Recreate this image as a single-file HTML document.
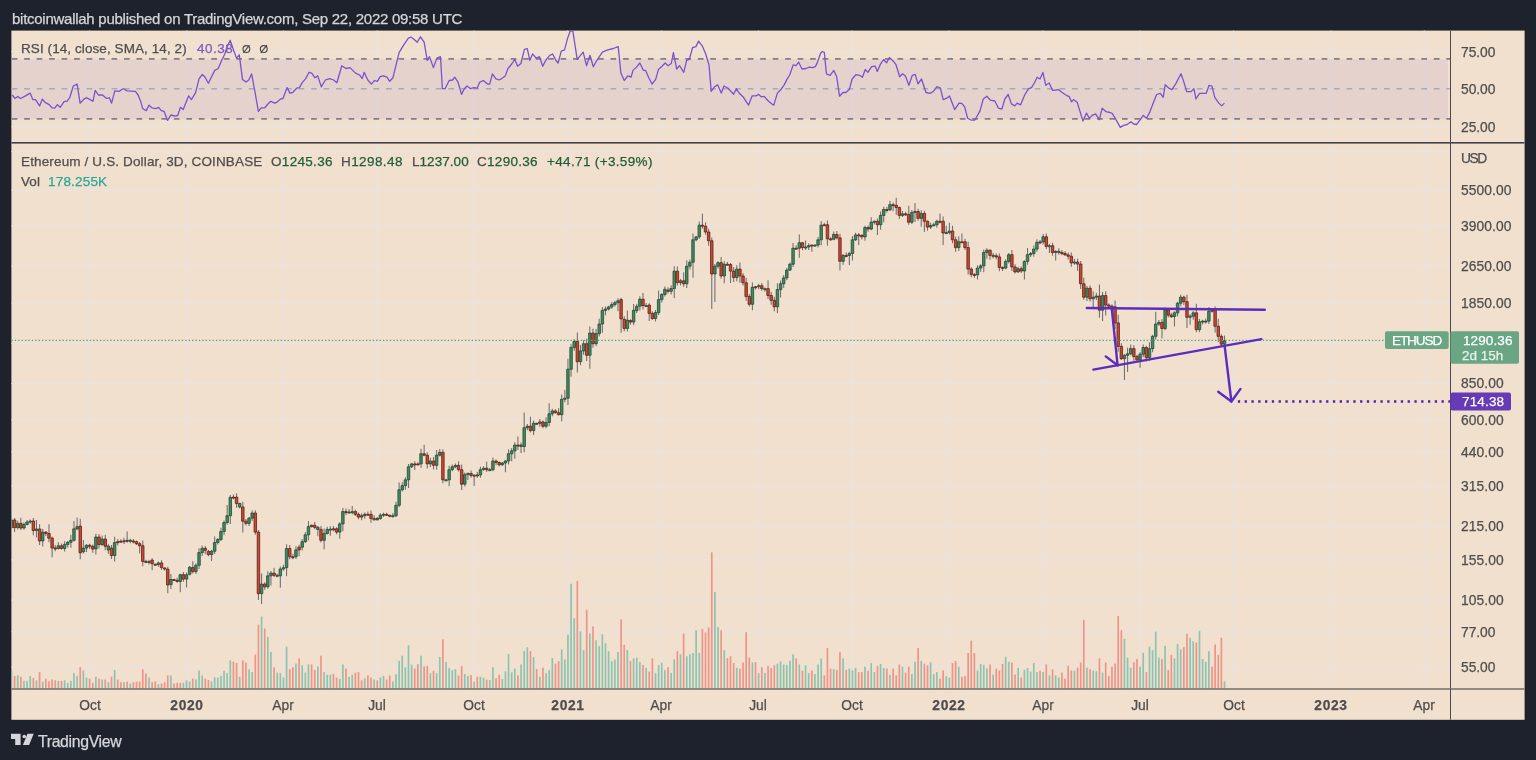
<!DOCTYPE html><html><head><meta charset="utf-8"><style>html,body{margin:0;padding:0;background:#1e222d;width:1536px;height:760px;overflow:hidden;font-family:"Liberation Sans",sans-serif;}.t{position:absolute;white-space:nowrap;line-height:1;will-change:transform;-webkit-text-stroke:0.25px currentColor;}</style></head><body><svg width="1536" height="760" viewBox="0 0 1536 760" style="position:absolute;left:0;top:0"><rect x="11.4" y="30.6" width="1513.2" height="689.2" fill="#f2e0cf"/><defs><clipPath id="cp"><rect x="11.4" y="30.6" width="1438.6" height="658.4"/></clipPath><clipPath id="cp2"><rect x="11.4" y="30.6" width="1513.2" height="689.2"/></clipPath></defs><g clip-path="url(#cp2)"><rect x="89.1" y="30" width="1" height="658" fill="#e8e3e5"/><rect x="186.3" y="30" width="1" height="658" fill="#e8e3e5"/><rect x="282.9" y="30" width="1" height="658" fill="#e8e3e5"/><rect x="376.7" y="30" width="1" height="658" fill="#e8e3e5"/><rect x="473.4" y="30" width="1" height="658" fill="#e8e3e5"/><rect x="567.1" y="30" width="1" height="658" fill="#e8e3e5"/><rect x="660.9" y="30" width="1" height="658" fill="#e8e3e5"/><rect x="757.9" y="30" width="1" height="658" fill="#e8e3e5"/><rect x="851.6" y="30" width="1" height="658" fill="#e8e3e5"/><rect x="948.6" y="30" width="1" height="658" fill="#e8e3e5"/><rect x="1042.3" y="30" width="1" height="658" fill="#e8e3e5"/><rect x="1139.7" y="30" width="1" height="658" fill="#e8e3e5"/><rect x="1233.1" y="30" width="1" height="658" fill="#e8e3e5"/><rect x="1330.5" y="30" width="1" height="658" fill="#e8e3e5"/><rect x="1423.8" y="30" width="1" height="658" fill="#e8e3e5"/><rect x="11" y="151.0" width="1439" height="1" fill="#e8e3e5"/><rect x="11" y="189.7" width="1439" height="1" fill="#e8e3e5"/><rect x="11" y="225.3" width="1439" height="1" fill="#e8e3e5"/><rect x="11" y="265.5" width="1439" height="1" fill="#e8e3e5"/><rect x="11" y="302.5" width="1439" height="1" fill="#e8e3e5"/><rect x="11" y="343.0" width="1439" height="1" fill="#e8e3e5"/><rect x="11" y="383.0" width="1439" height="1" fill="#e8e3e5"/><rect x="11" y="419.2" width="1439" height="1" fill="#e8e3e5"/><rect x="11" y="451.2" width="1439" height="1" fill="#e8e3e5"/><rect x="11" y="485.5" width="1439" height="1" fill="#e8e3e5"/><rect x="11" y="525.8" width="1439" height="1" fill="#e8e3e5"/><rect x="11" y="559.4" width="1439" height="1" fill="#e8e3e5"/><rect x="11" y="599.7" width="1439" height="1" fill="#e8e3e5"/><rect x="11" y="631.2" width="1439" height="1" fill="#e8e3e5"/><rect x="11" y="666.8" width="1439" height="1" fill="#e8e3e5"/><rect x="11" y="51.0" width="1439" height="1" fill="#e8e3e5"/><rect x="11" y="88.3" width="1439" height="1" fill="#e8e3e5"/><rect x="11" y="126.2" width="1439" height="1" fill="#e8e3e5"/><rect x="11" y="59.3" width="1437" height="59.8" fill="#7e57c2" fill-opacity="0.1"/><line x1="11" y1="58.9" x2="1450" y2="58.9" stroke="#7d7f8a" stroke-width="1.6" stroke-dasharray="5.7 6.775" stroke-dashoffset="-0.7"/><line x1="11" y1="88.8" x2="1450" y2="88.8" stroke="rgba(120,123,134,0.5)" stroke-width="1.6" stroke-dasharray="5.7 6.775" stroke-dashoffset="-0.7"/><line x1="11" y1="118.9" x2="1450" y2="118.9" stroke="#7d7f8a" stroke-width="1.6" stroke-dasharray="5.7 6.775" stroke-dashoffset="-0.7"/><polyline fill="none" stroke="#7b52cc" stroke-width="1.3" stroke-linejoin="round" points="12.3,95.0 15.0,98.5 17.8,96.4 20.5,98.5 24.6,96.4 30.1,93.1 32.8,99.6 35.5,99.6 39.6,105.9 42.4,99.1 45.1,102.4 49.2,104.6 52.0,107.8 54.7,108.1 57.4,104.6 60.2,107.3 64.3,101.3 67.0,101.3 69.7,97.7 73.3,86.0 77.1,84.1 80.1,103.2 83.4,99.6 86.1,97.7 90.2,99.6 93.0,101.3 95.2,90.3 98.4,95.0 102.5,95.0 106.6,98.5 109.4,97.7 111.6,103.2 114.8,90.9 118.9,91.4 123.1,88.7 127.2,90.9 135.4,91.4 138.1,95.0 140.8,101.8 142.7,108.7 146.3,110.6 149.0,105.1 151.8,107.8 155.9,108.7 158.6,107.3 161.3,110.6 164.1,111.4 167.6,120.4 170.9,115.0 175.0,116.1 177.7,115.5 180.5,107.3 183.2,109.5 188.7,95.8 191.4,99.6 195.5,92.8 199.1,78.6 202.4,74.5 205.1,77.2 208.4,83.2 211.1,77.8 214.7,70.4 218.2,68.5 221.5,60.8 224.8,54.0 227.0,47.1 230.2,40.3 233.0,48.5 236.5,58.1 239.3,54.8 242.5,79.4 246.1,82.1 248.8,80.0 251.6,73.9 254.3,88.2 258.4,111.4 261.1,107.8 264.7,107.8 268.0,104.0 270.7,101.3 274.8,103.2 277.5,101.8 280.3,99.1 283.0,98.5 287.1,87.6 289.9,93.1 292.6,92.5 296.7,88.2 299.4,87.6 302.2,82.7 305.7,78.6 309.0,72.3 311.7,73.1 315.0,77.8 317.7,75.9 321.3,86.8 325.4,80.0 329.5,78.6 333.6,80.0 336.9,82.7 341.8,65.7 345.9,68.5 350.0,67.6 355.5,73.1 359.6,75.0 362.3,78.6 364.2,72.3 367.8,80.0 371.3,84.1 374.6,80.5 377.4,81.3 380.1,76.7 383.4,75.9 386.9,77.2 389.7,81.3 392.9,77.8 399.2,52.1 400.0,51.2 404.1,44.4 408.2,38.4 410.9,37.0 414.2,39.5 417.2,42.2 420.5,36.8 424.1,42.2 427.3,60.3 429.5,56.7 433.4,67.6 436.9,58.1 440.5,56.7 442.4,88.7 445.1,88.7 449.2,80.5 452.5,80.0 454.7,77.2 458.0,82.1 461.5,94.4 464.3,88.7 467.0,86.0 470.5,88.7 473.8,87.6 477.1,88.2 479.8,82.1 483.4,80.5 487.5,84.1 489.7,84.1 492.4,73.9 495.7,78.6 499.0,80.0 501.7,78.6 505.3,75.9 508.0,68.5 512.1,63.5 514.8,59.4 517.6,66.3 520.9,63.5 524.4,49.3 527.2,48.5 529.9,60.3 532.6,54.0 536.2,58.1 539.5,56.7 542.7,66.3 546.3,59.4 549.8,55.3 552.6,54.0 555.9,60.3 558.1,63.0 561.3,51.2 564.6,49.9 567.4,38.9 570.1,31.3 572.8,30.7 577.2,59.4 583.2,52.1 586.5,65.7 590.0,55.3 593.3,66.8 596.9,60.3 602.4,52.1 607.8,49.9 613.3,48.5 618.2,46.6 620.9,73.1 624.2,80.5 627.8,75.9 631.1,77.2 633.0,70.4 636.5,67.1 639.8,63.0 643.4,70.4 645.6,70.4 648.8,77.8 652.1,84.1 655.7,79.4 658.4,69.6 662.0,66.3 665.2,63.0 668.0,65.7 671.3,63.5 673.4,52.6 676.7,69.0 679.5,65.7 683.8,72.3 686.6,60.3 689.3,59.4 692.6,47.7 695.9,46.6 698.6,41.1 702.2,45.8 705.7,54.0 709.0,64.9 711.2,91.4 714.5,86.8 717.7,84.9 721.3,93.1 724.0,86.0 728.1,88.2 733.6,94.2 736.3,88.7 739.1,93.1 743.2,96.9 746.7,102.4 748.6,105.1 752.2,95.8 756.0,95.8 758.8,94.4 761.5,96.9 764.2,96.4 767.8,100.5 771.9,104.0 773.8,105.1 777.4,93.1 780.9,89.5 784.2,84.9 786.9,79.4 789.7,75.0 793.2,64.9 796.0,65.7 798.7,62.2 802.0,69.0 806.1,68.5 809.4,67.1 812.9,67.6 815.6,66.3 817.2,62.9 820.6,53.2 822.3,51.5 824.3,52.3 826.4,73.8 830.1,75.3 833.8,70.4 836.7,76.7 839.5,96.2 843.0,92.5 845.8,92.5 849.3,89.6 852.1,79.0 855.9,74.7 859.6,75.3 862.4,77.3 865.3,69.5 867.9,72.4 871.6,66.7 875.1,66.1 877.3,71.5 880.2,64.7 883.6,59.5 886.5,62.9 889.4,57.5 893.1,60.9 896.0,64.7 899.7,76.7 902.5,73.8 905.4,76.1 908.9,85.3 912.3,75.3 915.2,74.4 918.0,83.9 921.5,79.0 926.0,92.5 930.3,93.3 933.2,91.6 936.9,86.7 940.4,88.2 943.2,99.6 946.7,98.2 949.5,95.9 954.7,109.6 959.0,103.1 961.8,103.3 964.7,106.8 967.6,118.2 971.3,120.2 974.7,120.2 979.9,111.1 983.3,99.0 986.8,96.2 990.5,100.2 994.8,101.0 998.5,108.2 1001.9,109.1 1004.8,99.0 1008.2,94.5 1011.4,103.9 1014.8,105.9 1017.1,103.1 1020.6,104.8 1024.9,94.5 1028.6,88.7 1031.5,87.6 1034.3,83.0 1037.2,77.3 1040.0,79.0 1042.9,72.4 1045.8,85.3 1049.2,83.0 1052.6,90.4 1058.4,89.6 1062.1,92.5 1066.4,95.3 1069.3,96.7 1071.6,101.9 1073.6,99.6 1077.3,102.5 1080.1,111.9 1083.0,121.1 1086.5,113.1 1089.3,118.2 1092.2,115.4 1095.6,113.9 1099.3,119.7 1102.2,108.2 1105.9,111.6 1109.9,112.5 1112.2,113.4 1115.7,119.1 1120.3,127.4 1123.7,125.4 1127.1,124.5 1130.9,121.7 1133.7,124.0 1136.6,124.5 1140.3,119.7 1143.2,115.4 1146.6,118.2 1150.0,111.6 1152.9,103.9 1156.6,94.5 1160.4,93.3 1163.2,97.3 1165.2,84.7 1168.9,88.2 1171.8,89.6 1175.3,84.7 1177.5,80.4 1181.0,73.8 1183.8,81.9 1186.7,91.6 1191.0,91.6 1193.9,88.7 1195.9,98.8 1199.6,93.3 1203.9,93.3 1206.2,93.3 1209.1,85.3 1211.9,86.1 1214.8,97.3 1218.8,103.1 1221.7,105.9 1224.5,103.1"/><g clip-path="url(#cp)"><rect x="10.61" y="671.27" width="1.7" height="17.23" fill="#8cc4b0"/><rect x="13.73" y="675.92" width="1.7" height="12.58" fill="#ee9488"/><rect x="16.86" y="675.37" width="1.7" height="13.13" fill="#8cc4b0"/><rect x="19.99" y="676.74" width="1.7" height="11.76" fill="#ee9488"/><rect x="23.11" y="680.84" width="1.7" height="7.66" fill="#8cc4b0"/><rect x="26.24" y="680.84" width="1.7" height="7.66" fill="#8cc4b0"/><rect x="29.37" y="675.92" width="1.7" height="12.58" fill="#8cc4b0"/><rect x="32.49" y="678.11" width="1.7" height="10.39" fill="#ee9488"/><rect x="35.62" y="680.30" width="1.7" height="8.20" fill="#8cc4b0"/><rect x="38.74" y="672.09" width="1.7" height="16.41" fill="#ee9488"/><rect x="41.87" y="681.66" width="1.7" height="6.84" fill="#8cc4b0"/><rect x="45.00" y="678.66" width="1.7" height="9.84" fill="#ee9488"/><rect x="48.12" y="681.39" width="1.7" height="7.11" fill="#ee9488"/><rect x="51.25" y="679.48" width="1.7" height="9.02" fill="#ee9488"/><rect x="54.38" y="680.30" width="1.7" height="8.20" fill="#ee9488"/><rect x="57.50" y="680.84" width="1.7" height="7.66" fill="#8cc4b0"/><rect x="60.63" y="680.84" width="1.7" height="7.66" fill="#ee9488"/><rect x="63.76" y="680.30" width="1.7" height="8.20" fill="#8cc4b0"/><rect x="66.88" y="683.03" width="1.7" height="5.47" fill="#8cc4b0"/><rect x="70.01" y="680.84" width="1.7" height="7.66" fill="#8cc4b0"/><rect x="73.13" y="673.19" width="1.7" height="15.31" fill="#8cc4b0"/><rect x="76.26" y="675.92" width="1.7" height="12.58" fill="#8cc4b0"/><rect x="79.39" y="667.17" width="1.7" height="21.33" fill="#ee9488"/><rect x="82.51" y="670.45" width="1.7" height="18.05" fill="#8cc4b0"/><rect x="85.64" y="677.56" width="1.7" height="10.94" fill="#8cc4b0"/><rect x="88.77" y="678.66" width="1.7" height="9.84" fill="#ee9488"/><rect x="91.89" y="682.76" width="1.7" height="5.74" fill="#ee9488"/><rect x="95.02" y="676.74" width="1.7" height="11.76" fill="#8cc4b0"/><rect x="98.15" y="678.66" width="1.7" height="9.84" fill="#ee9488"/><rect x="101.27" y="679.48" width="1.7" height="9.02" fill="#8cc4b0"/><rect x="104.40" y="679.48" width="1.7" height="9.02" fill="#ee9488"/><rect x="107.53" y="682.21" width="1.7" height="6.29" fill="#8cc4b0"/><rect x="110.65" y="676.74" width="1.7" height="11.76" fill="#ee9488"/><rect x="113.78" y="669.91" width="1.7" height="18.59" fill="#8cc4b0"/><rect x="116.90" y="679.48" width="1.7" height="9.02" fill="#ee9488"/><rect x="120.03" y="682.21" width="1.7" height="6.29" fill="#ee9488"/><rect x="123.16" y="682.21" width="1.7" height="6.29" fill="#8cc4b0"/><rect x="126.28" y="681.66" width="1.7" height="6.84" fill="#ee9488"/><rect x="129.41" y="683.58" width="1.7" height="4.92" fill="#8cc4b0"/><rect x="132.54" y="682.21" width="1.7" height="6.29" fill="#ee9488"/><rect x="135.66" y="681.66" width="1.7" height="6.84" fill="#ee9488"/><rect x="138.79" y="681.66" width="1.7" height="6.84" fill="#ee9488"/><rect x="141.92" y="669.36" width="1.7" height="19.14" fill="#ee9488"/><rect x="145.04" y="673.46" width="1.7" height="15.04" fill="#ee9488"/><rect x="148.17" y="677.56" width="1.7" height="10.94" fill="#8cc4b0"/><rect x="151.29" y="682.21" width="1.7" height="6.29" fill="#ee9488"/><rect x="154.42" y="681.39" width="1.7" height="7.11" fill="#ee9488"/><rect x="157.55" y="684.12" width="1.7" height="4.38" fill="#8cc4b0"/><rect x="160.67" y="683.58" width="1.7" height="4.92" fill="#ee9488"/><rect x="163.80" y="682.21" width="1.7" height="6.29" fill="#ee9488"/><rect x="166.93" y="675.37" width="1.7" height="13.13" fill="#ee9488"/><rect x="170.05" y="675.37" width="1.7" height="13.13" fill="#8cc4b0"/><rect x="173.18" y="683.58" width="1.7" height="4.92" fill="#ee9488"/><rect x="176.31" y="682.76" width="1.7" height="5.74" fill="#ee9488"/><rect x="179.43" y="682.76" width="1.7" height="5.74" fill="#ee9488"/><rect x="182.56" y="682.76" width="1.7" height="5.74" fill="#8cc4b0"/><rect x="185.69" y="680.30" width="1.7" height="8.20" fill="#8cc4b0"/><rect x="188.81" y="681.66" width="1.7" height="6.84" fill="#8cc4b0"/><rect x="191.94" y="678.66" width="1.7" height="9.84" fill="#ee9488"/><rect x="195.06" y="679.48" width="1.7" height="9.02" fill="#8cc4b0"/><rect x="198.19" y="670.45" width="1.7" height="18.05" fill="#8cc4b0"/><rect x="201.32" y="675.37" width="1.7" height="13.13" fill="#8cc4b0"/><rect x="204.44" y="678.66" width="1.7" height="9.84" fill="#ee9488"/><rect x="207.57" y="680.02" width="1.7" height="8.48" fill="#ee9488"/><rect x="210.70" y="681.39" width="1.7" height="7.11" fill="#8cc4b0"/><rect x="213.82" y="677.29" width="1.7" height="11.21" fill="#8cc4b0"/><rect x="216.95" y="677.56" width="1.7" height="10.94" fill="#8cc4b0"/><rect x="220.08" y="675.92" width="1.7" height="12.58" fill="#8cc4b0"/><rect x="223.20" y="670.73" width="1.7" height="17.77" fill="#8cc4b0"/><rect x="226.33" y="673.19" width="1.7" height="15.31" fill="#8cc4b0"/><rect x="229.45" y="660.33" width="1.7" height="28.17" fill="#8cc4b0"/><rect x="232.58" y="661.70" width="1.7" height="26.80" fill="#ee9488"/><rect x="235.71" y="663.07" width="1.7" height="25.43" fill="#ee9488"/><rect x="238.83" y="676.74" width="1.7" height="11.76" fill="#8cc4b0"/><rect x="241.96" y="660.33" width="1.7" height="28.17" fill="#ee9488"/><rect x="245.09" y="662.52" width="1.7" height="25.98" fill="#ee9488"/><rect x="248.21" y="669.36" width="1.7" height="19.14" fill="#8cc4b0"/><rect x="251.34" y="672.09" width="1.7" height="16.41" fill="#8cc4b0"/><rect x="254.47" y="654.59" width="1.7" height="33.91" fill="#ee9488"/><rect x="257.59" y="624.79" width="1.7" height="63.71" fill="#ee9488"/><rect x="260.72" y="616.58" width="1.7" height="71.92" fill="#8cc4b0"/><rect x="263.85" y="628.34" width="1.7" height="60.16" fill="#ee9488"/><rect x="266.97" y="637.09" width="1.7" height="51.41" fill="#8cc4b0"/><rect x="270.10" y="651.86" width="1.7" height="36.64" fill="#8cc4b0"/><rect x="273.22" y="667.17" width="1.7" height="21.33" fill="#ee9488"/><rect x="276.35" y="672.64" width="1.7" height="15.86" fill="#8cc4b0"/><rect x="279.48" y="673.19" width="1.7" height="15.31" fill="#8cc4b0"/><rect x="282.60" y="677.56" width="1.7" height="10.94" fill="#8cc4b0"/><rect x="285.73" y="646.66" width="1.7" height="41.84" fill="#8cc4b0"/><rect x="288.86" y="669.09" width="1.7" height="19.41" fill="#ee9488"/><rect x="291.98" y="667.17" width="1.7" height="21.33" fill="#ee9488"/><rect x="295.11" y="663.62" width="1.7" height="24.88" fill="#8cc4b0"/><rect x="298.24" y="658.42" width="1.7" height="30.08" fill="#ee9488"/><rect x="301.36" y="665.26" width="1.7" height="23.24" fill="#8cc4b0"/><rect x="304.49" y="672.64" width="1.7" height="15.86" fill="#8cc4b0"/><rect x="307.61" y="664.44" width="1.7" height="24.06" fill="#8cc4b0"/><rect x="310.74" y="664.44" width="1.7" height="24.06" fill="#ee9488"/><rect x="313.87" y="669.91" width="1.7" height="18.59" fill="#ee9488"/><rect x="316.99" y="666.35" width="1.7" height="22.15" fill="#8cc4b0"/><rect x="320.12" y="655.69" width="1.7" height="32.81" fill="#ee9488"/><rect x="323.25" y="672.09" width="1.7" height="16.41" fill="#8cc4b0"/><rect x="326.37" y="674.83" width="1.7" height="13.67" fill="#8cc4b0"/><rect x="329.50" y="674.55" width="1.7" height="13.95" fill="#8cc4b0"/><rect x="332.63" y="674.01" width="1.7" height="14.49" fill="#ee9488"/><rect x="335.75" y="677.56" width="1.7" height="10.94" fill="#ee9488"/><rect x="338.88" y="678.93" width="1.7" height="9.57" fill="#8cc4b0"/><rect x="342.01" y="664.44" width="1.7" height="24.06" fill="#8cc4b0"/><rect x="345.13" y="668.54" width="1.7" height="19.96" fill="#ee9488"/><rect x="348.26" y="676.74" width="1.7" height="11.76" fill="#8cc4b0"/><rect x="351.38" y="674.83" width="1.7" height="13.67" fill="#8cc4b0"/><rect x="354.51" y="672.64" width="1.7" height="15.86" fill="#ee9488"/><rect x="357.64" y="672.09" width="1.7" height="16.41" fill="#ee9488"/><rect x="360.76" y="680.30" width="1.7" height="8.20" fill="#ee9488"/><rect x="363.89" y="678.11" width="1.7" height="10.39" fill="#8cc4b0"/><rect x="367.02" y="675.37" width="1.7" height="13.13" fill="#ee9488"/><rect x="370.14" y="677.56" width="1.7" height="10.94" fill="#ee9488"/><rect x="373.27" y="679.48" width="1.7" height="9.02" fill="#8cc4b0"/><rect x="376.40" y="680.30" width="1.7" height="8.20" fill="#ee9488"/><rect x="379.52" y="677.56" width="1.7" height="10.94" fill="#8cc4b0"/><rect x="382.65" y="675.92" width="1.7" height="12.58" fill="#8cc4b0"/><rect x="385.77" y="679.48" width="1.7" height="9.02" fill="#ee9488"/><rect x="388.90" y="675.37" width="1.7" height="13.13" fill="#ee9488"/><rect x="392.03" y="681.39" width="1.7" height="7.11" fill="#8cc4b0"/><rect x="395.15" y="674.28" width="1.7" height="14.22" fill="#8cc4b0"/><rect x="398.28" y="660.88" width="1.7" height="27.62" fill="#8cc4b0"/><rect x="401.41" y="655.69" width="1.7" height="32.81" fill="#8cc4b0"/><rect x="404.53" y="667.44" width="1.7" height="21.06" fill="#8cc4b0"/><rect x="407.66" y="645.30" width="1.7" height="43.20" fill="#8cc4b0"/><rect x="410.79" y="664.71" width="1.7" height="23.79" fill="#8cc4b0"/><rect x="413.91" y="668.54" width="1.7" height="19.96" fill="#ee9488"/><rect x="417.04" y="664.16" width="1.7" height="24.34" fill="#ee9488"/><rect x="420.17" y="655.69" width="1.7" height="32.81" fill="#8cc4b0"/><rect x="423.29" y="666.35" width="1.7" height="22.15" fill="#ee9488"/><rect x="426.42" y="665.80" width="1.7" height="22.70" fill="#ee9488"/><rect x="429.54" y="673.19" width="1.7" height="15.31" fill="#8cc4b0"/><rect x="432.67" y="670.73" width="1.7" height="17.77" fill="#ee9488"/><rect x="435.80" y="673.19" width="1.7" height="15.31" fill="#8cc4b0"/><rect x="438.92" y="657.05" width="1.7" height="31.45" fill="#8cc4b0"/><rect x="442.05" y="639.28" width="1.7" height="49.22" fill="#ee9488"/><rect x="445.18" y="661.98" width="1.7" height="26.52" fill="#8cc4b0"/><rect x="448.30" y="667.99" width="1.7" height="20.51" fill="#8cc4b0"/><rect x="451.43" y="670.18" width="1.7" height="18.32" fill="#8cc4b0"/><rect x="454.56" y="669.09" width="1.7" height="19.41" fill="#8cc4b0"/><rect x="457.68" y="675.65" width="1.7" height="12.85" fill="#ee9488"/><rect x="460.81" y="666.08" width="1.7" height="22.42" fill="#ee9488"/><rect x="463.93" y="674.01" width="1.7" height="14.49" fill="#8cc4b0"/><rect x="467.06" y="675.92" width="1.7" height="12.58" fill="#8cc4b0"/><rect x="470.19" y="675.10" width="1.7" height="13.40" fill="#ee9488"/><rect x="473.31" y="681.66" width="1.7" height="6.84" fill="#8cc4b0"/><rect x="476.44" y="676.74" width="1.7" height="11.76" fill="#ee9488"/><rect x="479.57" y="676.74" width="1.7" height="11.76" fill="#8cc4b0"/><rect x="482.69" y="677.56" width="1.7" height="10.94" fill="#8cc4b0"/><rect x="485.82" y="679.48" width="1.7" height="9.02" fill="#ee9488"/><rect x="488.95" y="680.02" width="1.7" height="8.48" fill="#8cc4b0"/><rect x="492.07" y="667.17" width="1.7" height="21.33" fill="#8cc4b0"/><rect x="495.20" y="678.11" width="1.7" height="10.39" fill="#ee9488"/><rect x="498.33" y="674.83" width="1.7" height="13.67" fill="#ee9488"/><rect x="501.45" y="678.93" width="1.7" height="9.57" fill="#8cc4b0"/><rect x="504.58" y="671.27" width="1.7" height="17.23" fill="#8cc4b0"/><rect x="507.70" y="654.05" width="1.7" height="34.45" fill="#8cc4b0"/><rect x="510.83" y="672.37" width="1.7" height="16.13" fill="#8cc4b0"/><rect x="513.96" y="668.54" width="1.7" height="19.96" fill="#8cc4b0"/><rect x="517.08" y="675.37" width="1.7" height="13.13" fill="#ee9488"/><rect x="520.21" y="664.44" width="1.7" height="24.06" fill="#8cc4b0"/><rect x="523.34" y="651.04" width="1.7" height="37.46" fill="#8cc4b0"/><rect x="526.46" y="647.21" width="1.7" height="41.29" fill="#8cc4b0"/><rect x="529.59" y="651.04" width="1.7" height="37.46" fill="#ee9488"/><rect x="532.72" y="657.05" width="1.7" height="31.45" fill="#8cc4b0"/><rect x="535.84" y="669.09" width="1.7" height="19.41" fill="#ee9488"/><rect x="538.97" y="676.74" width="1.7" height="11.76" fill="#8cc4b0"/><rect x="542.09" y="667.72" width="1.7" height="20.78" fill="#ee9488"/><rect x="545.22" y="673.19" width="1.7" height="15.31" fill="#8cc4b0"/><rect x="548.35" y="670.18" width="1.7" height="18.32" fill="#8cc4b0"/><rect x="551.47" y="658.15" width="1.7" height="30.35" fill="#8cc4b0"/><rect x="554.60" y="663.62" width="1.7" height="24.88" fill="#ee9488"/><rect x="557.73" y="661.16" width="1.7" height="27.34" fill="#ee9488"/><rect x="560.85" y="649.40" width="1.7" height="39.10" fill="#8cc4b0"/><rect x="563.98" y="659.51" width="1.7" height="28.99" fill="#8cc4b0"/><rect x="567.11" y="634.63" width="1.7" height="53.87" fill="#8cc4b0"/><rect x="570.23" y="583.77" width="1.7" height="104.73" fill="#8cc4b0"/><rect x="573.36" y="618.22" width="1.7" height="70.28" fill="#8cc4b0"/><rect x="576.49" y="581.03" width="1.7" height="107.47" fill="#ee9488"/><rect x="579.61" y="631.35" width="1.7" height="57.15" fill="#8cc4b0"/><rect x="582.74" y="650.22" width="1.7" height="38.28" fill="#8cc4b0"/><rect x="585.86" y="609.75" width="1.7" height="78.75" fill="#ee9488"/><rect x="588.99" y="633.54" width="1.7" height="54.96" fill="#8cc4b0"/><rect x="592.12" y="626.43" width="1.7" height="62.07" fill="#ee9488"/><rect x="595.24" y="640.37" width="1.7" height="48.13" fill="#8cc4b0"/><rect x="598.37" y="646.12" width="1.7" height="42.38" fill="#8cc4b0"/><rect x="601.50" y="634.36" width="1.7" height="54.14" fill="#8cc4b0"/><rect x="604.62" y="643.11" width="1.7" height="45.39" fill="#8cc4b0"/><rect x="607.75" y="651.04" width="1.7" height="37.46" fill="#8cc4b0"/><rect x="610.88" y="661.16" width="1.7" height="27.34" fill="#8cc4b0"/><rect x="614.00" y="659.51" width="1.7" height="28.99" fill="#8cc4b0"/><rect x="617.13" y="652.13" width="1.7" height="36.37" fill="#8cc4b0"/><rect x="620.25" y="619.32" width="1.7" height="69.18" fill="#ee9488"/><rect x="623.38" y="644.75" width="1.7" height="43.75" fill="#ee9488"/><rect x="626.51" y="649.94" width="1.7" height="38.56" fill="#8cc4b0"/><rect x="629.63" y="661.16" width="1.7" height="27.34" fill="#ee9488"/><rect x="632.76" y="658.42" width="1.7" height="30.08" fill="#8cc4b0"/><rect x="635.89" y="657.60" width="1.7" height="30.90" fill="#8cc4b0"/><rect x="639.01" y="661.98" width="1.7" height="26.52" fill="#8cc4b0"/><rect x="642.14" y="664.98" width="1.7" height="23.52" fill="#ee9488"/><rect x="645.27" y="667.72" width="1.7" height="20.78" fill="#8cc4b0"/><rect x="648.39" y="671.55" width="1.7" height="16.95" fill="#ee9488"/><rect x="651.52" y="658.42" width="1.7" height="30.08" fill="#ee9488"/><rect x="654.65" y="673.19" width="1.7" height="15.31" fill="#8cc4b0"/><rect x="657.77" y="664.98" width="1.7" height="23.52" fill="#8cc4b0"/><rect x="660.90" y="662.52" width="1.7" height="25.98" fill="#8cc4b0"/><rect x="664.02" y="670.18" width="1.7" height="18.32" fill="#8cc4b0"/><rect x="667.15" y="667.17" width="1.7" height="21.33" fill="#ee9488"/><rect x="670.28" y="672.91" width="1.7" height="15.59" fill="#8cc4b0"/><rect x="673.40" y="659.24" width="1.7" height="29.26" fill="#8cc4b0"/><rect x="676.53" y="651.04" width="1.7" height="37.46" fill="#ee9488"/><rect x="679.66" y="654.32" width="1.7" height="34.18" fill="#8cc4b0"/><rect x="682.78" y="633.54" width="1.7" height="54.96" fill="#ee9488"/><rect x="685.91" y="656.23" width="1.7" height="32.27" fill="#8cc4b0"/><rect x="689.04" y="654.32" width="1.7" height="34.18" fill="#8cc4b0"/><rect x="692.16" y="652.95" width="1.7" height="35.55" fill="#8cc4b0"/><rect x="695.29" y="630.26" width="1.7" height="58.24" fill="#8cc4b0"/><rect x="698.41" y="652.95" width="1.7" height="35.55" fill="#8cc4b0"/><rect x="701.54" y="628.89" width="1.7" height="59.61" fill="#ee9488"/><rect x="704.67" y="632.44" width="1.7" height="56.06" fill="#ee9488"/><rect x="707.79" y="627.52" width="1.7" height="60.98" fill="#ee9488"/><rect x="710.92" y="552.32" width="1.7" height="136.18" fill="#ee9488"/><rect x="714.05" y="591.97" width="1.7" height="96.53" fill="#8cc4b0"/><rect x="717.17" y="626.97" width="1.7" height="61.53" fill="#8cc4b0"/><rect x="720.30" y="630.26" width="1.7" height="58.24" fill="#ee9488"/><rect x="723.43" y="650.22" width="1.7" height="38.28" fill="#8cc4b0"/><rect x="726.55" y="658.15" width="1.7" height="30.35" fill="#ee9488"/><rect x="729.68" y="656.23" width="1.7" height="32.27" fill="#ee9488"/><rect x="732.81" y="663.07" width="1.7" height="25.43" fill="#ee9488"/><rect x="735.93" y="667.72" width="1.7" height="20.78" fill="#8cc4b0"/><rect x="739.06" y="668.81" width="1.7" height="19.69" fill="#ee9488"/><rect x="742.18" y="662.52" width="1.7" height="25.98" fill="#ee9488"/><rect x="745.31" y="632.17" width="1.7" height="56.33" fill="#ee9488"/><rect x="748.44" y="657.60" width="1.7" height="30.90" fill="#ee9488"/><rect x="751.56" y="662.52" width="1.7" height="25.98" fill="#8cc4b0"/><rect x="754.69" y="661.98" width="1.7" height="26.52" fill="#ee9488"/><rect x="757.82" y="673.19" width="1.7" height="15.31" fill="#8cc4b0"/><rect x="760.94" y="667.17" width="1.7" height="21.33" fill="#ee9488"/><rect x="764.07" y="672.91" width="1.7" height="15.59" fill="#8cc4b0"/><rect x="767.20" y="665.80" width="1.7" height="22.70" fill="#ee9488"/><rect x="770.32" y="667.99" width="1.7" height="20.51" fill="#ee9488"/><rect x="773.45" y="665.26" width="1.7" height="23.24" fill="#ee9488"/><rect x="776.57" y="663.62" width="1.7" height="24.88" fill="#8cc4b0"/><rect x="779.70" y="661.43" width="1.7" height="27.07" fill="#8cc4b0"/><rect x="782.83" y="664.44" width="1.7" height="24.06" fill="#8cc4b0"/><rect x="785.95" y="664.98" width="1.7" height="23.52" fill="#8cc4b0"/><rect x="789.08" y="660.88" width="1.7" height="27.62" fill="#8cc4b0"/><rect x="792.21" y="654.32" width="1.7" height="34.18" fill="#8cc4b0"/><rect x="795.33" y="658.42" width="1.7" height="30.08" fill="#ee9488"/><rect x="798.46" y="664.44" width="1.7" height="24.06" fill="#8cc4b0"/><rect x="801.59" y="670.73" width="1.7" height="17.77" fill="#ee9488"/><rect x="804.71" y="665.26" width="1.7" height="23.24" fill="#8cc4b0"/><rect x="807.84" y="673.19" width="1.7" height="15.31" fill="#8cc4b0"/><rect x="810.97" y="670.45" width="1.7" height="18.05" fill="#ee9488"/><rect x="814.09" y="674.01" width="1.7" height="14.49" fill="#8cc4b0"/><rect x="817.22" y="664.44" width="1.7" height="24.06" fill="#8cc4b0"/><rect x="820.34" y="658.42" width="1.7" height="30.08" fill="#8cc4b0"/><rect x="823.47" y="675.37" width="1.7" height="13.13" fill="#ee9488"/><rect x="826.60" y="648.03" width="1.7" height="40.47" fill="#ee9488"/><rect x="829.72" y="668.54" width="1.7" height="19.96" fill="#ee9488"/><rect x="832.85" y="669.09" width="1.7" height="19.41" fill="#8cc4b0"/><rect x="835.98" y="669.91" width="1.7" height="18.59" fill="#ee9488"/><rect x="839.10" y="652.13" width="1.7" height="36.37" fill="#ee9488"/><rect x="842.23" y="658.42" width="1.7" height="30.08" fill="#8cc4b0"/><rect x="845.36" y="669.91" width="1.7" height="18.59" fill="#ee9488"/><rect x="848.48" y="668.54" width="1.7" height="19.96" fill="#8cc4b0"/><rect x="851.61" y="670.45" width="1.7" height="18.05" fill="#8cc4b0"/><rect x="854.73" y="667.72" width="1.7" height="20.78" fill="#8cc4b0"/><rect x="857.86" y="672.09" width="1.7" height="16.41" fill="#ee9488"/><rect x="860.99" y="672.09" width="1.7" height="16.41" fill="#ee9488"/><rect x="864.11" y="666.62" width="1.7" height="21.88" fill="#8cc4b0"/><rect x="867.24" y="670.73" width="1.7" height="17.77" fill="#ee9488"/><rect x="870.37" y="663.07" width="1.7" height="25.43" fill="#8cc4b0"/><rect x="873.49" y="672.09" width="1.7" height="16.41" fill="#8cc4b0"/><rect x="876.62" y="665.80" width="1.7" height="22.70" fill="#ee9488"/><rect x="879.75" y="663.89" width="1.7" height="24.61" fill="#8cc4b0"/><rect x="882.87" y="667.99" width="1.7" height="20.51" fill="#8cc4b0"/><rect x="886.00" y="668.54" width="1.7" height="19.96" fill="#ee9488"/><rect x="889.13" y="674.83" width="1.7" height="13.67" fill="#8cc4b0"/><rect x="892.25" y="668.54" width="1.7" height="19.96" fill="#ee9488"/><rect x="895.38" y="675.37" width="1.7" height="13.13" fill="#ee9488"/><rect x="898.50" y="664.44" width="1.7" height="24.06" fill="#ee9488"/><rect x="901.63" y="666.62" width="1.7" height="21.88" fill="#8cc4b0"/><rect x="904.76" y="672.64" width="1.7" height="15.86" fill="#ee9488"/><rect x="907.88" y="666.62" width="1.7" height="21.88" fill="#ee9488"/><rect x="911.01" y="674.01" width="1.7" height="14.49" fill="#8cc4b0"/><rect x="914.14" y="661.70" width="1.7" height="26.80" fill="#8cc4b0"/><rect x="917.26" y="648.03" width="1.7" height="40.47" fill="#ee9488"/><rect x="920.39" y="660.88" width="1.7" height="27.62" fill="#8cc4b0"/><rect x="923.52" y="663.62" width="1.7" height="24.88" fill="#ee9488"/><rect x="926.64" y="665.26" width="1.7" height="23.24" fill="#ee9488"/><rect x="929.77" y="662.25" width="1.7" height="26.25" fill="#8cc4b0"/><rect x="932.89" y="674.01" width="1.7" height="14.49" fill="#8cc4b0"/><rect x="936.02" y="672.09" width="1.7" height="16.41" fill="#8cc4b0"/><rect x="939.15" y="678.66" width="1.7" height="9.84" fill="#ee9488"/><rect x="942.27" y="670.45" width="1.7" height="18.05" fill="#ee9488"/><rect x="945.40" y="676.19" width="1.7" height="12.31" fill="#8cc4b0"/><rect x="948.53" y="677.56" width="1.7" height="10.94" fill="#8cc4b0"/><rect x="951.65" y="663.07" width="1.7" height="25.43" fill="#ee9488"/><rect x="954.78" y="660.88" width="1.7" height="27.62" fill="#ee9488"/><rect x="957.91" y="666.62" width="1.7" height="21.88" fill="#8cc4b0"/><rect x="961.03" y="676.74" width="1.7" height="11.76" fill="#ee9488"/><rect x="964.16" y="675.92" width="1.7" height="12.58" fill="#ee9488"/><rect x="967.29" y="652.95" width="1.7" height="35.55" fill="#ee9488"/><rect x="970.41" y="640.65" width="1.7" height="47.85" fill="#ee9488"/><rect x="973.54" y="652.95" width="1.7" height="35.55" fill="#ee9488"/><rect x="976.66" y="670.45" width="1.7" height="18.05" fill="#8cc4b0"/><rect x="979.79" y="663.89" width="1.7" height="24.61" fill="#8cc4b0"/><rect x="982.92" y="664.98" width="1.7" height="23.52" fill="#8cc4b0"/><rect x="986.04" y="668.54" width="1.7" height="19.96" fill="#8cc4b0"/><rect x="989.17" y="664.44" width="1.7" height="24.06" fill="#ee9488"/><rect x="992.30" y="674.55" width="1.7" height="13.95" fill="#8cc4b0"/><rect x="995.42" y="668.54" width="1.7" height="19.96" fill="#ee9488"/><rect x="998.55" y="670.45" width="1.7" height="18.05" fill="#ee9488"/><rect x="1001.68" y="663.89" width="1.7" height="24.61" fill="#ee9488"/><rect x="1004.80" y="656.78" width="1.7" height="31.72" fill="#8cc4b0"/><rect x="1007.93" y="661.70" width="1.7" height="26.80" fill="#8cc4b0"/><rect x="1011.05" y="662.52" width="1.7" height="25.98" fill="#ee9488"/><rect x="1014.18" y="674.55" width="1.7" height="13.95" fill="#ee9488"/><rect x="1017.31" y="667.72" width="1.7" height="20.78" fill="#8cc4b0"/><rect x="1020.43" y="677.56" width="1.7" height="10.94" fill="#ee9488"/><rect x="1023.56" y="669.91" width="1.7" height="18.59" fill="#8cc4b0"/><rect x="1026.69" y="667.99" width="1.7" height="20.51" fill="#8cc4b0"/><rect x="1029.81" y="671.55" width="1.7" height="16.95" fill="#8cc4b0"/><rect x="1032.94" y="663.07" width="1.7" height="25.43" fill="#8cc4b0"/><rect x="1036.07" y="672.09" width="1.7" height="16.41" fill="#8cc4b0"/><rect x="1039.19" y="670.73" width="1.7" height="17.77" fill="#ee9488"/><rect x="1042.32" y="672.09" width="1.7" height="16.41" fill="#8cc4b0"/><rect x="1045.45" y="664.44" width="1.7" height="24.06" fill="#ee9488"/><rect x="1048.57" y="675.37" width="1.7" height="13.13" fill="#8cc4b0"/><rect x="1051.70" y="669.36" width="1.7" height="19.14" fill="#ee9488"/><rect x="1054.82" y="675.37" width="1.7" height="13.13" fill="#8cc4b0"/><rect x="1057.95" y="677.56" width="1.7" height="10.94" fill="#8cc4b0"/><rect x="1061.08" y="672.64" width="1.7" height="15.86" fill="#ee9488"/><rect x="1064.20" y="678.66" width="1.7" height="9.84" fill="#ee9488"/><rect x="1067.33" y="665.80" width="1.7" height="22.70" fill="#ee9488"/><rect x="1070.46" y="670.45" width="1.7" height="18.05" fill="#ee9488"/><rect x="1073.58" y="670.73" width="1.7" height="17.77" fill="#8cc4b0"/><rect x="1076.71" y="667.72" width="1.7" height="20.78" fill="#ee9488"/><rect x="1079.84" y="662.52" width="1.7" height="25.98" fill="#ee9488"/><rect x="1082.96" y="619.86" width="1.7" height="68.64" fill="#ee9488"/><rect x="1086.09" y="667.72" width="1.7" height="20.78" fill="#8cc4b0"/><rect x="1089.21" y="669.09" width="1.7" height="19.41" fill="#ee9488"/><rect x="1092.34" y="670.73" width="1.7" height="17.77" fill="#8cc4b0"/><rect x="1095.47" y="671.27" width="1.7" height="17.23" fill="#8cc4b0"/><rect x="1098.59" y="658.42" width="1.7" height="30.08" fill="#ee9488"/><rect x="1101.72" y="672.64" width="1.7" height="15.86" fill="#8cc4b0"/><rect x="1104.85" y="662.52" width="1.7" height="25.98" fill="#ee9488"/><rect x="1107.97" y="675.92" width="1.7" height="12.58" fill="#ee9488"/><rect x="1111.10" y="666.62" width="1.7" height="21.88" fill="#ee9488"/><rect x="1114.23" y="663.62" width="1.7" height="24.88" fill="#ee9488"/><rect x="1117.35" y="616.04" width="1.7" height="72.46" fill="#ee9488"/><rect x="1120.48" y="630.26" width="1.7" height="58.24" fill="#ee9488"/><rect x="1123.61" y="638.73" width="1.7" height="49.77" fill="#8cc4b0"/><rect x="1126.73" y="657.60" width="1.7" height="30.90" fill="#8cc4b0"/><rect x="1129.86" y="667.72" width="1.7" height="20.78" fill="#8cc4b0"/><rect x="1132.98" y="662.25" width="1.7" height="26.25" fill="#ee9488"/><rect x="1136.11" y="658.97" width="1.7" height="29.53" fill="#ee9488"/><rect x="1139.24" y="666.62" width="1.7" height="21.88" fill="#8cc4b0"/><rect x="1142.36" y="652.68" width="1.7" height="35.82" fill="#8cc4b0"/><rect x="1145.49" y="672.09" width="1.7" height="16.41" fill="#ee9488"/><rect x="1148.62" y="646.66" width="1.7" height="41.84" fill="#8cc4b0"/><rect x="1151.74" y="650.22" width="1.7" height="38.28" fill="#8cc4b0"/><rect x="1154.87" y="631.62" width="1.7" height="56.88" fill="#8cc4b0"/><rect x="1158.00" y="657.60" width="1.7" height="30.90" fill="#8cc4b0"/><rect x="1161.12" y="658.97" width="1.7" height="29.53" fill="#ee9488"/><rect x="1164.25" y="645.84" width="1.7" height="42.66" fill="#8cc4b0"/><rect x="1167.37" y="669.91" width="1.7" height="18.59" fill="#ee9488"/><rect x="1170.50" y="654.87" width="1.7" height="33.63" fill="#ee9488"/><rect x="1173.63" y="658.42" width="1.7" height="30.08" fill="#8cc4b0"/><rect x="1176.75" y="643.93" width="1.7" height="44.57" fill="#8cc4b0"/><rect x="1179.88" y="649.40" width="1.7" height="39.10" fill="#8cc4b0"/><rect x="1183.01" y="647.21" width="1.7" height="41.29" fill="#ee9488"/><rect x="1186.13" y="633.81" width="1.7" height="54.69" fill="#ee9488"/><rect x="1189.26" y="637.91" width="1.7" height="50.59" fill="#8cc4b0"/><rect x="1192.39" y="641.19" width="1.7" height="47.31" fill="#8cc4b0"/><rect x="1195.51" y="642.56" width="1.7" height="45.94" fill="#ee9488"/><rect x="1198.64" y="630.80" width="1.7" height="57.70" fill="#8cc4b0"/><rect x="1201.77" y="658.97" width="1.7" height="29.53" fill="#8cc4b0"/><rect x="1204.89" y="661.70" width="1.7" height="26.80" fill="#8cc4b0"/><rect x="1208.02" y="651.31" width="1.7" height="37.19" fill="#8cc4b0"/><rect x="1211.14" y="666.62" width="1.7" height="21.88" fill="#ee9488"/><rect x="1214.27" y="644.47" width="1.7" height="44.03" fill="#ee9488"/><rect x="1217.40" y="654.87" width="1.7" height="33.63" fill="#ee9488"/><rect x="1220.52" y="637.64" width="1.7" height="50.86" fill="#ee9488"/><rect x="1223.65" y="681.39" width="1.7" height="7.11" fill="#8cc4b0"/><path d="M11.46 518.29V529.92M14.58 518.01V531.89M17.71 520.65V529.58M20.84 517.63V530.00M23.96 522.23V529.66M27.09 520.08V525.33M30.22 519.51V523.74M33.34 517.98V535.22M36.47 519.98V537.38M39.59 524.18V545.01M42.72 528.75V546.54M45.85 531.13V536.07M48.97 524.32V542.14M52.10 536.45V557.15M55.23 545.11V551.23M58.35 542.16V549.57M61.48 543.51V549.68M64.61 541.13V551.49M67.73 541.09V547.50M70.86 534.71V547.75M73.98 520.95V541.60M77.11 517.40V530.23M80.24 518.66V559.27M83.36 540.06V553.59M86.49 544.14V551.91M89.62 543.76V548.97M92.74 544.50V552.85M95.87 533.70V554.46M99.00 534.03V548.57M102.12 535.41V545.99M105.25 534.64V550.13M108.38 544.36V553.87M111.50 544.98V558.93M114.63 536.82V561.49M117.75 539.12V545.48M120.88 539.34V542.37M124.01 537.87V544.04M127.13 531.59V542.78M130.26 538.82V543.18M133.39 539.12V543.50M136.51 540.60V545.01M139.64 542.05V553.60M142.77 540.38V566.21M145.89 559.74V563.30M149.02 559.65V564.53M152.14 558.25V570.35M155.27 563.58V565.48M158.40 561.61V566.73M161.52 560.28V569.90M164.65 566.98V570.68M167.78 566.79V593.31M170.90 574.01V588.97M174.03 578.85V580.89M177.16 577.65V582.63M180.28 573.84V592.25M183.41 572.07V581.84M186.54 572.50V587.49M189.66 566.03V575.43M192.79 561.29V573.60M195.91 563.15V573.90M199.04 548.19V569.08M202.17 545.50V556.07M205.29 545.93V554.13M208.42 550.08V556.25M211.55 549.77V561.05M214.67 536.62V553.87M217.80 538.10V544.46M220.93 527.66V540.91M224.05 520.55V535.20M227.18 504.97V524.80M230.30 495.00V524.01M233.43 494.57V499.24M236.56 493.26V507.64M239.68 502.66V508.49M242.81 501.77V532.60M245.94 519.01V525.56M249.06 517.00V526.06M252.19 510.54V521.11M255.32 510.35V534.68M258.44 529.93V600.08M261.57 573.54V604.00M264.70 582.13V589.66M267.82 571.22V588.78M270.95 571.04V585.51M274.07 567.85V577.08M277.20 573.50V577.15M280.33 566.42V587.81M283.45 564.77V570.65M286.58 544.25V576.18M289.71 544.97V559.36M292.83 553.83V559.25M295.96 546.29V559.10M299.09 544.77V556.23M302.21 539.03V550.59M305.34 532.01V542.99M308.46 521.12V540.47M311.59 524.39V527.49M314.72 522.02V529.16M317.84 525.94V536.29M320.97 525.90V542.45M324.10 528.57V549.31M327.22 526.85V534.54M330.35 526.37V535.65M333.48 525.91V531.30M336.60 527.34V534.25M339.73 522.37V538.63M342.86 507.98V531.37M345.98 508.52V515.27M349.11 509.01V513.70M352.23 505.99V514.32M355.36 509.40V516.10M358.49 512.40V519.14M361.61 513.16V520.19M364.74 512.48V518.65M367.87 511.40V514.97M370.99 510.58V522.77M374.12 515.24V520.71M377.25 517.03V520.45M380.37 513.24V519.87M383.50 512.74V516.95M386.62 512.63V516.01M389.75 514.68V517.22M392.88 512.90V517.62M396.00 501.87V516.91M399.13 482.50V507.15M402.26 482.19V491.47M405.38 477.24V489.64M408.51 464.02V487.98M411.64 462.71V467.94M414.76 461.19V470.05M417.89 462.28V465.44M421.02 448.79V467.68M424.14 444.65V456.33M427.27 452.27V468.41M430.39 457.82V466.98M433.52 457.01V469.53M436.65 449.95V469.85M439.77 448.91V456.58M442.90 449.53V483.29M446.03 478.82V481.14M449.15 465.86V486.29M452.28 464.60V471.30M455.41 463.59V468.36M458.53 461.17V471.40M461.66 464.61V489.89M464.78 472.42V486.55M467.91 472.48V479.94M471.04 470.56V477.78M474.16 474.28V486.03M477.29 472.08V477.77M480.42 466.63V477.81M483.54 466.25V470.62M486.67 461.76V472.10M489.80 467.81V470.96M492.92 457.50V471.36M496.05 459.53V465.13M499.18 461.58V466.42M502.30 462.04V465.92M505.43 460.01V472.29M508.55 449.37V464.47M511.68 447.91V461.28M514.81 442.36V458.72M517.93 436.43V449.93M521.06 442.42V453.03M524.19 412.59V452.23M527.31 423.98V430.33M530.44 416.77V432.47M533.57 420.60V435.04M536.69 422.85V424.23M539.82 419.10V426.77M542.94 420.60V428.20M546.07 417.22V428.32M549.20 403.18V426.16M552.32 408.64V416.36M555.45 409.23V413.57M558.58 408.24V415.59M561.70 394.57V421.14M564.83 389.82V402.36M567.96 358.73V405.10M571.08 344.33V376.86M574.21 339.05V350.75M577.34 332.44V372.52M580.46 345.05V365.26M583.59 340.31V354.79M586.71 338.63V361.02M589.84 326.51V368.65M592.97 328.75V347.86M596.09 329.02V346.29M599.22 318.73V336.53M602.35 307.04V332.65M605.47 306.46V315.22M608.60 305.69V310.53M611.73 302.03V309.02M614.85 300.67V306.44M617.98 298.24V311.26M621.10 297.73V332.86M624.23 316.22V331.24M627.36 310.60V331.47M630.48 319.36V324.78M633.61 303.93V325.18M636.74 303.79V312.92M639.86 296.23V310.56M642.99 292.91V309.57M646.12 303.03V306.55M649.24 303.25V321.04M652.37 311.15V319.99M655.50 310.07V321.62M658.62 290.54V315.08M661.75 292.97V302.51M664.87 286.38V296.45M668.00 287.15V293.55M671.13 285.33V294.42M674.25 266.35V298.10M677.38 266.40V285.42M680.51 278.88V285.54M683.63 272.16V286.73M686.76 260.13V288.04M689.89 259.61V269.46M693.01 233.40V277.65M696.14 235.95V241.32M699.26 221.47V238.96M702.39 213.50V228.77M705.52 222.31V234.82M708.64 228.64V245.84M711.77 237.46V309.00M714.90 264.04V302.00M718.02 261.17V268.40M721.15 256.93V278.84M724.28 261.18V283.18M727.40 262.04V265.38M730.53 262.90V282.95M733.66 267.09V282.01M736.78 265.31V281.14M739.91 262.43V282.77M743.03 272.90V285.45M746.16 277.68V300.84M749.29 294.01V306.43M752.41 282.47V310.25M755.54 285.95V289.40M758.67 283.84V289.18M761.79 282.97V290.71M764.92 287.45V291.57M768.05 280.29V298.95M771.17 291.82V304.63M774.30 296.85V311.32M777.42 283.35V312.88M780.55 280.54V297.38M783.68 274.99V287.92M786.80 267.67V280.36M789.93 262.42V270.92M793.06 242.90V266.92M796.18 245.25V249.73M799.31 234.61V257.82M802.44 241.88V250.33M805.56 240.48V250.08M808.69 243.17V249.98M811.82 244.55V251.82M814.94 244.16V246.79M818.07 236.96V247.41M821.19 220.94V245.30M824.32 222.81V225.94M827.45 220.45V245.86M830.57 237.14V240.75M833.70 231.55V240.15M836.83 230.96V239.43M839.95 233.68V270.54M843.08 253.89V264.81M846.21 252.60V257.45M849.33 251.83V265.06M852.46 235.95V260.45M855.58 232.63V241.09M858.71 232.96V245.11M861.84 234.20V239.43M864.96 225.63V240.71M868.09 225.44V231.74M871.22 217.37V230.29M874.34 220.52V224.42M877.47 218.40V235.01M880.60 211.38V229.85M883.72 206.65V222.36M886.85 206.65V212.52M889.98 200.71V210.83M893.10 202.39V211.31M896.23 197.73V214.76M899.35 206.49V218.81M902.48 211.03V217.06M905.61 211.66V215.93M908.73 205.73V224.82M911.86 209.89V224.04M914.99 203.03V221.94M918.11 208.81V220.70M921.24 210.33V226.63M924.37 210.81V232.00M927.49 220.40V230.77M930.62 222.65V229.11M933.74 222.43V226.27M936.87 219.81V227.67M940.00 213.38V223.58M943.12 216.46V245.11M946.25 225.63V234.05M949.38 222.74V234.62M952.50 225.81V243.29M955.63 236.77V251.86M958.76 236.37V250.99M961.88 233.62V242.50M965.01 238.74V250.08M968.14 241.65V274.60M971.26 267.17V277.30M974.39 273.34V277.71M977.51 265.36V279.49M980.64 264.18V271.68M983.77 249.57V272.15M986.89 248.15V258.86M990.02 249.40V259.67M993.15 252.69V258.51M996.27 253.49V259.13M999.40 253.52V271.36M1002.53 266.49V271.11M1005.65 259.20V269.22M1008.78 252.88V263.39M1011.90 249.95V271.04M1015.03 264.14V273.60M1018.16 266.67V272.82M1021.28 266.49V272.99M1024.41 260.27V279.49M1027.54 248.06V264.70M1030.66 251.91V257.05M1033.79 245.57V256.70M1036.92 239.29V251.77M1040.04 240.03V244.37M1043.17 234.08V244.38M1046.30 233.43V248.94M1049.42 243.87V252.88M1052.55 242.85V255.73M1055.67 250.14V260.61M1058.80 248.22V254.68M1061.93 250.07V255.18M1065.05 251.12V255.82M1068.18 252.55V259.38M1071.31 252.44V266.69M1074.43 258.85V264.77M1077.56 258.81V270.83M1080.69 261.01V289.06M1083.81 277.78V299.72M1086.94 285.99V301.08M1090.06 285.41V301.61M1093.19 291.27V306.90M1096.32 292.86V299.98M1099.44 284.62V317.79M1102.57 291.88V321.09M1105.70 291.27V315.47M1108.82 303.37V308.79M1111.95 304.17V308.00M1115.08 300.59V329.09M1118.20 314.78V351.72M1121.33 343.20V359.90M1124.46 354.01V380.00M1127.58 347.84V372.00M1130.71 344.59V355.31M1133.83 345.17V360.73M1136.96 354.81V362.03M1140.09 351.92V367.64M1143.21 344.53V357.23M1146.34 345.74V361.53M1149.47 342.24V360.55M1152.59 334.72V352.14M1155.72 311.71V339.55M1158.85 320.11V325.92M1161.97 319.10V338.43M1165.10 307.39V330.15M1168.22 308.41V317.51M1171.35 312.76V318.02M1174.48 311.23V326.59M1177.60 301.78V316.28M1180.73 294.63V306.29M1183.86 295.84V305.19M1186.98 294.76V328.06M1190.11 314.05V324.65M1193.24 311.05V319.87M1196.36 303.85V332.33M1199.49 318.96V332.14M1202.62 319.67V324.53M1205.74 318.58V323.52M1208.87 306.98V324.09M1211.99 308.89V312.57M1215.12 306.50V332.44M1218.25 318.66V342.08M1221.37 334.23V346.04M1224.50 335.47V346.59" stroke="#727272" stroke-width="1.1" fill="none"/><path d="M10.21 520.00h2.5v7.60h-2.5zM16.46 523.40h2.5v4.20h-2.5zM22.71 524.50h2.5v3.50h-2.5zM25.84 522.00h2.5v2.50h-2.5zM28.97 521.00h2.5v1.00h-2.5zM35.22 529.00h2.5v1.50h-2.5zM41.47 532.11h2.5v8.89h-2.5zM57.10 545.79h2.5v2.73h-2.5zM63.36 544.42h2.5v4.10h-2.5zM66.48 542.37h2.5v2.05h-2.5zM69.61 540.32h2.5v2.05h-2.5zM72.73 528.83h2.5v11.48h-2.5zM75.86 526.64h2.5v2.19h-2.5zM82.11 548.10h2.5v3.70h-2.5zM85.24 545.24h2.5v2.86h-2.5zM94.62 537.00h2.5v12.00h-2.5zM100.87 539.00h2.5v5.50h-2.5zM107.13 546.00h2.5v4.00h-2.5zM113.38 542.60h2.5v12.90h-2.5zM122.76 540.77h2.5v1.00h-2.5zM129.01 540.32h2.5v1.00h-2.5zM147.77 561.51h2.5v1.00h-2.5zM157.15 562.90h2.5v1.60h-2.5zM169.65 579.50h2.5v5.10h-2.5zM179.03 574.70h2.5v6.70h-2.5zM185.29 574.70h2.5v4.40h-2.5zM188.41 567.20h2.5v7.10h-2.5zM194.66 565.30h2.5v6.30h-2.5zM197.79 552.60h2.5v12.70h-2.5zM200.92 548.30h2.5v4.30h-2.5zM210.30 551.26h2.5v3.34h-2.5zM213.42 542.50h2.5v8.75h-2.5zM216.55 539.50h2.5v3.01h-2.5zM219.68 531.57h2.5v7.93h-2.5zM222.80 522.54h2.5v9.02h-2.5zM225.93 515.71h2.5v6.84h-2.5zM229.05 497.39h2.5v18.32h-2.5zM238.43 503.40h2.5v3.55h-2.5zM247.81 518.17h2.5v5.20h-2.5zM250.94 512.97h2.5v5.20h-2.5zM260.32 584.07h2.5v9.57h-2.5zM266.57 575.87h2.5v10.94h-2.5zM269.70 573.13h2.5v2.73h-2.5zM275.95 575.32h2.5v1.00h-2.5zM279.08 569.03h2.5v6.84h-2.5zM282.20 567.66h2.5v1.37h-2.5zM285.33 548.52h2.5v19.14h-2.5zM294.71 549.89h2.5v6.84h-2.5zM300.96 541.68h2.5v5.47h-2.5zM304.09 534.85h2.5v6.84h-2.5zM307.21 526.64h2.5v8.20h-2.5zM316.59 527.33h2.5v2.05h-2.5zM322.85 533.48h2.5v6.84h-2.5zM325.97 529.38h2.5v4.10h-2.5zM329.10 529.11h2.5v1.00h-2.5zM338.48 523.91h2.5v8.20h-2.5zM341.61 511.61h2.5v12.31h-2.5zM347.86 512.02h2.5v1.00h-2.5zM350.98 511.61h2.5v1.00h-2.5zM363.49 514.34h2.5v1.37h-2.5zM372.87 518.44h2.5v1.37h-2.5zM379.12 515.16h2.5v3.28h-2.5zM382.25 514.34h2.5v1.00h-2.5zM391.63 515.71h2.5v1.00h-2.5zM394.75 505.32h2.5v10.39h-2.5zM397.88 489.73h2.5v15.59h-2.5zM401.01 485.63h2.5v4.10h-2.5zM404.13 479.83h2.5v5.80h-2.5zM407.26 466.79h2.5v13.03h-2.5zM410.39 463.90h2.5v2.90h-2.5zM419.77 453.76h2.5v10.14h-2.5zM429.14 461.00h2.5v2.90h-2.5zM435.40 455.21h2.5v10.14h-2.5zM438.52 452.31h2.5v2.90h-2.5zM444.78 479.83h2.5v1.00h-2.5zM447.90 469.69h2.5v10.14h-2.5zM451.03 466.79h2.5v2.90h-2.5zM454.16 465.35h2.5v1.45h-2.5zM463.53 474.61h2.5v9.56h-2.5zM466.66 473.45h2.5v1.16h-2.5zM472.91 475.19h2.5v1.00h-2.5zM479.17 469.69h2.5v5.21h-2.5zM482.29 468.24h2.5v1.45h-2.5zM488.55 469.69h2.5v1.00h-2.5zM491.67 461.00h2.5v8.69h-2.5zM501.05 463.03h2.5v1.74h-2.5zM504.18 461.00h2.5v2.03h-2.5zM507.30 453.76h2.5v7.24h-2.5zM510.43 450.87h2.5v2.90h-2.5zM513.56 445.07h2.5v5.79h-2.5zM519.81 445.07h2.5v1.45h-2.5zM522.94 427.70h2.5v18.82h-2.5zM526.06 426.25h2.5v1.45h-2.5zM532.32 423.35h2.5v7.24h-2.5zM538.57 421.91h2.5v1.45h-2.5zM544.82 422.48h2.5v3.76h-2.5zM547.95 413.80h2.5v8.69h-2.5zM551.07 410.90h2.5v2.90h-2.5zM560.45 399.32h2.5v15.35h-2.5zM563.58 398.16h2.5v1.16h-2.5zM566.71 369.20h2.5v28.96h-2.5zM569.83 347.48h2.5v21.72h-2.5zM572.96 341.40h2.5v6.08h-2.5zM579.21 350.95h2.5v10.72h-2.5zM582.34 343.71h2.5v7.24h-2.5zM588.59 333.00h2.5v22.30h-2.5zM594.84 333.58h2.5v10.14h-2.5zM597.97 324.02h2.5v9.56h-2.5zM601.10 310.41h2.5v13.61h-2.5zM604.22 308.96h2.5v1.45h-2.5zM607.35 306.93h2.5v2.03h-2.5zM610.48 304.62h2.5v2.32h-2.5zM613.60 302.73h2.5v1.88h-2.5zM616.73 300.85h2.5v1.88h-2.5zM626.11 320.10h2.5v8.30h-2.5zM632.36 310.30h2.5v11.80h-2.5zM635.49 306.30h2.5v4.30h-2.5zM638.61 299.20h2.5v7.10h-2.5zM644.87 305.50h2.5v1.00h-2.5zM654.25 312.60h2.5v5.90h-2.5zM657.37 299.60h2.5v13.00h-2.5zM660.50 294.50h2.5v5.10h-2.5zM663.62 289.30h2.5v5.20h-2.5zM669.88 288.50h2.5v2.80h-2.5zM673.00 271.20h2.5v17.30h-2.5zM679.26 280.82h2.5v1.78h-2.5zM685.51 266.17h2.5v17.58h-2.5zM688.64 262.27h2.5v3.91h-2.5zM691.76 239.80h2.5v22.46h-2.5zM694.89 236.88h2.5v2.93h-2.5zM698.01 225.16h2.5v11.72h-2.5zM713.65 266.17h2.5v7.81h-2.5zM716.77 262.66h2.5v3.52h-2.5zM723.03 264.22h2.5v11.72h-2.5zM735.53 269.10h2.5v8.40h-2.5zM751.16 287.27h2.5v16.99h-2.5zM757.42 285.70h2.5v1.00h-2.5zM763.67 288.63h2.5v1.00h-2.5zM776.17 289.61h2.5v17.19h-2.5zM779.30 283.75h2.5v5.86h-2.5zM782.43 277.89h2.5v5.86h-2.5zM785.55 270.08h2.5v7.81h-2.5zM788.68 264.22h2.5v5.86h-2.5zM791.81 248.20h2.5v16.02h-2.5zM798.06 242.73h2.5v5.47h-2.5zM804.31 247.03h2.5v1.00h-2.5zM807.44 245.66h2.5v1.37h-2.5zM813.69 245.08h2.5v1.00h-2.5zM816.82 239.80h2.5v5.27h-2.5zM819.94 225.16h2.5v14.65h-2.5zM832.45 234.53h2.5v4.69h-2.5zM841.83 255.43h2.5v5.86h-2.5zM848.08 253.48h2.5v1.95h-2.5zM851.21 239.80h2.5v13.67h-2.5zM854.33 234.92h2.5v4.88h-2.5zM863.71 227.50h2.5v9.38h-2.5zM869.97 222.23h2.5v6.84h-2.5zM873.09 221.25h2.5v1.00h-2.5zM879.35 215.39h2.5v9.38h-2.5zM882.47 209.53h2.5v5.86h-2.5zM888.73 204.65h2.5v5.27h-2.5zM901.23 213.83h2.5v1.56h-2.5zM910.61 212.46h2.5v9.77h-2.5zM913.74 211.48h2.5v1.00h-2.5zM919.99 213.44h2.5v4.88h-2.5zM929.37 225.55h2.5v1.56h-2.5zM932.49 224.77h2.5v1.00h-2.5zM935.62 221.25h2.5v3.52h-2.5zM945.00 232.58h2.5v1.00h-2.5zM948.13 231.02h2.5v1.56h-2.5zM957.51 241.76h2.5v5.86h-2.5zM976.26 268.10h2.5v6.71h-2.5zM979.39 265.86h2.5v2.24h-2.5zM982.52 252.44h2.5v13.42h-2.5zM985.64 250.20h2.5v2.24h-2.5zM991.90 255.35h2.5v1.00h-2.5zM1004.40 261.39h2.5v6.71h-2.5zM1007.53 254.68h2.5v6.71h-2.5zM1016.91 268.77h2.5v3.13h-2.5zM1023.16 261.39h2.5v9.62h-2.5zM1026.29 254.68h2.5v6.71h-2.5zM1029.41 253.56h2.5v1.12h-2.5zM1032.54 249.08h2.5v4.47h-2.5zM1035.67 242.37h2.5v6.71h-2.5zM1041.92 236.78h2.5v5.15h-2.5zM1048.17 245.73h2.5v1.00h-2.5zM1054.42 251.32h2.5v1.12h-2.5zM1057.55 251.32h2.5v1.12h-2.5zM1073.18 262.06h2.5v1.00h-2.5zM1085.69 288.23h2.5v8.95h-2.5zM1091.94 297.18h2.5v1.57h-2.5zM1095.07 296.06h2.5v1.12h-2.5zM1101.32 295.62h2.5v14.54h-2.5zM1123.21 355.35h2.5v3.36h-2.5zM1126.33 353.78h2.5v1.57h-2.5zM1129.46 348.64h2.5v5.15h-2.5zM1138.84 354.23h2.5v5.59h-2.5zM1141.96 347.52h2.5v6.71h-2.5zM1148.22 348.64h2.5v8.95h-2.5zM1151.34 336.33h2.5v12.30h-2.5zM1154.47 324.03h2.5v12.30h-2.5zM1157.60 322.46h2.5v1.57h-2.5zM1163.85 309.93h2.5v18.57h-2.5zM1173.23 312.84h2.5v3.80h-2.5zM1176.35 303.22h2.5v9.62h-2.5zM1179.48 297.18h2.5v6.04h-2.5zM1188.86 316.20h2.5v1.12h-2.5zM1191.99 312.84h2.5v3.36h-2.5zM1198.24 321.79h2.5v7.83h-2.5zM1201.37 321.12h2.5v1.00h-2.5zM1204.49 321.12h2.5v1.00h-2.5zM1207.62 311.28h2.5v9.84h-2.5zM1223.25 340.81h2.5v3.36h-2.5z" fill="#3f8c60" stroke="#1d4430" stroke-width="0.75"/><path d="M13.33 520.00h2.5v7.60h-2.5zM19.59 523.40h2.5v4.60h-2.5zM32.09 521.00h2.5v9.50h-2.5zM38.34 529.00h2.5v12.00h-2.5zM44.60 532.11h2.5v1.37h-2.5zM47.72 533.48h2.5v4.65h-2.5zM50.85 538.13h2.5v9.84h-2.5zM53.98 547.97h2.5v1.00h-2.5zM60.23 545.79h2.5v2.73h-2.5zM78.99 526.00h2.5v26.70h-2.5zM88.37 545.24h2.5v1.09h-2.5zM91.49 546.33h2.5v2.73h-2.5zM97.75 537.00h2.5v7.50h-2.5zM104.00 539.00h2.5v7.30h-2.5zM110.25 548.00h2.5v7.50h-2.5zM116.50 541.68h2.5v1.00h-2.5zM119.63 541.23h2.5v1.00h-2.5zM125.88 540.32h2.5v1.00h-2.5zM132.14 541.00h2.5v1.00h-2.5zM135.26 541.68h2.5v2.05h-2.5zM138.39 543.74h2.5v2.05h-2.5zM141.52 545.79h2.5v15.59h-2.5zM144.64 561.37h2.5v1.00h-2.5zM150.89 560.10h2.5v3.60h-2.5zM154.02 564.30h2.5v1.00h-2.5zM160.27 562.90h2.5v4.70h-2.5zM163.40 568.00h2.5v1.00h-2.5zM166.53 569.20h2.5v15.80h-2.5zM172.78 579.50h2.5v1.00h-2.5zM175.91 580.30h2.5v1.10h-2.5zM182.16 574.70h2.5v4.40h-2.5zM191.54 567.60h2.5v4.00h-2.5zM204.04 548.30h2.5v2.00h-2.5zM207.17 551.40h2.5v3.20h-2.5zM232.18 497.11h2.5v1.00h-2.5zM235.31 497.11h2.5v6.29h-2.5zM241.56 506.96h2.5v14.22h-2.5zM244.69 521.18h2.5v2.19h-2.5zM254.07 512.97h2.5v19.14h-2.5zM257.19 532.11h2.5v61.53h-2.5zM263.45 584.07h2.5v2.73h-2.5zM272.82 573.13h2.5v2.19h-2.5zM288.46 548.52h2.5v8.20h-2.5zM291.58 556.72h2.5v1.00h-2.5zM297.84 547.15h2.5v2.73h-2.5zM310.34 525.28h2.5v1.37h-2.5zM313.47 525.28h2.5v2.05h-2.5zM319.72 529.38h2.5v10.94h-2.5zM332.23 528.83h2.5v1.00h-2.5zM335.35 528.83h2.5v3.28h-2.5zM344.73 511.61h2.5v1.00h-2.5zM354.11 511.61h2.5v2.73h-2.5zM357.24 514.34h2.5v2.73h-2.5zM360.36 515.71h2.5v1.37h-2.5zM366.62 514.34h2.5v1.00h-2.5zM369.74 514.34h2.5v4.10h-2.5zM376.00 518.44h2.5v1.37h-2.5zM385.37 514.34h2.5v1.00h-2.5zM388.50 515.30h2.5v1.00h-2.5zM413.51 463.90h2.5v1.00h-2.5zM416.64 463.90h2.5v1.00h-2.5zM422.89 453.76h2.5v1.45h-2.5zM426.02 455.21h2.5v8.69h-2.5zM432.27 461.00h2.5v4.34h-2.5zM441.65 452.31h2.5v27.51h-2.5zM457.28 465.35h2.5v4.34h-2.5zM460.41 469.69h2.5v14.48h-2.5zM469.79 473.45h2.5v2.03h-2.5zM476.04 474.90h2.5v1.00h-2.5zM485.42 468.24h2.5v1.45h-2.5zM494.80 461.00h2.5v1.45h-2.5zM497.93 462.45h2.5v2.32h-2.5zM516.68 445.07h2.5v1.00h-2.5zM529.19 426.25h2.5v4.34h-2.5zM535.44 423.35h2.5v1.00h-2.5zM541.69 421.91h2.5v4.34h-2.5zM554.20 410.90h2.5v1.74h-2.5zM557.33 412.64h2.5v2.03h-2.5zM576.09 341.40h2.5v20.27h-2.5zM585.46 343.71h2.5v11.58h-2.5zM591.72 333.00h2.5v10.72h-2.5zM619.85 299.60h2.5v19.30h-2.5zM622.98 319.30h2.5v9.10h-2.5zM629.23 320.50h2.5v1.60h-2.5zM641.74 299.20h2.5v6.30h-2.5zM647.99 305.10h2.5v8.30h-2.5zM651.12 313.40h2.5v5.10h-2.5zM666.75 290.10h2.5v1.20h-2.5zM676.13 271.20h2.5v11.40h-2.5zM682.38 280.82h2.5v2.93h-2.5zM701.14 225.16h2.5v1.00h-2.5zM704.27 226.13h2.5v5.86h-2.5zM707.39 231.99h2.5v8.79h-2.5zM710.52 240.78h2.5v33.20h-2.5zM719.90 262.66h2.5v13.28h-2.5zM726.15 264.22h2.5v1.00h-2.5zM729.28 264.61h2.5v6.45h-2.5zM732.41 271.05h2.5v6.45h-2.5zM738.66 269.10h2.5v6.84h-2.5zM741.78 275.94h2.5v6.84h-2.5zM744.91 282.77h2.5v13.67h-2.5zM748.04 296.45h2.5v7.81h-2.5zM754.29 286.68h2.5v1.00h-2.5zM760.54 285.70h2.5v2.93h-2.5zM766.80 288.63h2.5v6.84h-2.5zM769.92 295.47h2.5v4.88h-2.5zM773.05 300.35h2.5v6.45h-2.5zM794.93 248.20h2.5v1.00h-2.5zM801.19 242.73h2.5v4.88h-2.5zM810.57 245.08h2.5v1.00h-2.5zM823.07 224.77h2.5v1.00h-2.5zM826.20 224.77h2.5v14.06h-2.5zM829.32 238.83h2.5v1.00h-2.5zM835.58 234.53h2.5v3.32h-2.5zM838.70 237.85h2.5v23.44h-2.5zM844.96 255.43h2.5v1.00h-2.5zM857.46 234.92h2.5v1.00h-2.5zM860.59 235.31h2.5v1.56h-2.5zM866.84 227.50h2.5v1.56h-2.5zM876.22 221.25h2.5v3.52h-2.5zM885.60 209.53h2.5v1.00h-2.5zM891.85 204.65h2.5v1.00h-2.5zM894.98 205.23h2.5v2.34h-2.5zM898.10 207.58h2.5v7.81h-2.5zM904.36 213.83h2.5v1.00h-2.5zM907.48 214.41h2.5v7.81h-2.5zM916.86 211.48h2.5v6.84h-2.5zM923.12 213.44h2.5v7.81h-2.5zM926.24 221.25h2.5v5.86h-2.5zM938.75 221.25h2.5v1.00h-2.5zM941.87 221.25h2.5v11.72h-2.5zM951.25 231.02h2.5v8.79h-2.5zM954.38 239.80h2.5v7.81h-2.5zM960.63 241.76h2.5v1.00h-2.5zM963.76 241.76h2.5v5.86h-2.5zM966.89 247.62h2.5v21.48h-2.5zM970.01 269.10h2.5v5.27h-2.5zM973.14 274.38h2.5v1.00h-2.5zM988.77 250.20h2.5v5.15h-2.5zM995.02 255.79h2.5v1.12h-2.5zM998.15 256.91h2.5v10.51h-2.5zM1001.28 267.43h2.5v1.00h-2.5zM1010.65 254.68h2.5v12.30h-2.5zM1013.78 266.98h2.5v4.92h-2.5zM1020.03 268.77h2.5v2.24h-2.5zM1038.79 241.92h2.5v1.00h-2.5zM1045.05 236.78h2.5v9.62h-2.5zM1051.30 245.73h2.5v6.71h-2.5zM1060.68 252.44h2.5v1.12h-2.5zM1063.80 253.56h2.5v1.34h-2.5zM1066.93 254.90h2.5v1.34h-2.5zM1070.06 256.24h2.5v6.71h-2.5zM1076.31 262.06h2.5v2.01h-2.5zM1079.44 264.07h2.5v19.69h-2.5zM1082.56 283.76h2.5v13.42h-2.5zM1088.81 288.23h2.5v10.51h-2.5zM1098.19 296.06h2.5v14.09h-2.5zM1104.45 295.62h2.5v9.40h-2.5zM1107.57 305.01h2.5v1.12h-2.5zM1110.70 306.13h2.5v1.00h-2.5zM1113.83 306.80h2.5v16.11h-2.5zM1116.95 322.91h2.5v23.49h-2.5zM1120.08 346.40h2.5v12.30h-2.5zM1132.58 348.64h2.5v7.83h-2.5zM1135.71 356.47h2.5v3.36h-2.5zM1145.09 347.52h2.5v10.07h-2.5zM1160.72 322.46h2.5v6.04h-2.5zM1166.97 309.93h2.5v5.15h-2.5zM1170.10 315.08h2.5v1.57h-2.5zM1182.61 297.18h2.5v4.47h-2.5zM1185.73 301.66h2.5v15.66h-2.5zM1195.11 312.84h2.5v16.78h-2.5zM1210.74 309.93h2.5v1.34h-2.5zM1213.87 309.93h2.5v16.33h-2.5zM1217.00 326.26h2.5v10.07h-2.5zM1220.12 336.33h2.5v7.83h-2.5z" fill="#c94a34" stroke="#5a1a10" stroke-width="0.75"/></g><line x1="11" y1="340.4" x2="1450" y2="340.4" stroke="#5f9f7a" stroke-width="1.4" stroke-dasharray="1.4 2.01" stroke-dashoffset="-0.3"/><g stroke="#5a2dbf" stroke-width="2.4" fill="none" stroke-linecap="round" stroke-linejoin="round"><line x1="1086.8" y1="308" x2="1264.8" y2="309.7"/><line x1="1093.3" y1="369.6" x2="1261.4" y2="339.1"/><line x1="1111.7" y1="308" x2="1117.6" y2="365.3"/><line x1="1105.7" y1="356.4" x2="1117.6" y2="365.3"/><line x1="1224.6" y1="345.6" x2="1231.4" y2="401.5"/><polyline points="1218.2,391.8 1231.4,401.5 1240.5,388.9"/></g><line x1="1237.85" y1="401.5" x2="1450" y2="401.5" stroke="#4f1fb5" stroke-width="2.3" stroke-dasharray="2.3 4.49"/><rect x="1450" y="30.6" width="1" height="689.2" fill="#4a4a4e"/><rect x="11" y="142.0" width="1513.6" height="1.6" fill="#40424c"/><rect x="11" y="688.3" width="1513.6" height="1.4" fill="#6a6560"/><rect x="1385" y="331.2" width="63.7" height="17.8" rx="2" fill="#6aa584"/><rect x="1450.5" y="331.2" width="68.5" height="32.6" rx="2" fill="#6aa584"/><rect x="1450.5" y="392.4" width="60.5" height="18.1" rx="2" fill="#673ab7"/><g stroke="#4a4a4a" stroke-width="1.15" fill="none"><circle cx="246.4" cy="49.1" r="3.4"/><line x1="243.3" y1="53" x2="249.5" y2="45.2"/></g><g stroke="#4a4a4a" stroke-width="1.15" fill="none"><circle cx="263.8" cy="49.1" r="3.4"/><line x1="260.7" y1="53" x2="266.9" y2="45.2"/></g></g></svg><div class="t" style="left:11.7px;top:10.50px;font-size:15.0px;color:#d6d6da;letter-spacing:-0.264px;">bitcoinwallah published on TradingView.com, Sep 22, 2022 09:58 UTC</div><div class="t" style="left:20.9px;top:41.67px;font-size:13.5px;color:#4e4e4e;letter-spacing:0.082px;">RSI (14, close, SMA, 14, 2)</div><div class="t" style="left:196.6px;top:41.67px;font-size:13.5px;color:#7e57c2;letter-spacing:0.476px;">40.38</div><div class="t" style="left:20.8px;top:155.37px;font-size:13.5px;color:#4e4e4e;letter-spacing:0.142px;">Ethereum / U.S. Dollar, 3D, COINBASE</div><div class="t" style="left:270.9px;top:155.37px;font-size:13.5px;color:#4e4e4e;letter-spacing:0.310px;">O<span style="color:#1f5c38">1245.36</span></div><div class="t" style="left:341.3px;top:155.37px;font-size:13.5px;color:#4e4e4e;letter-spacing:0.405px;">H<span style="color:#1f5c38">1298.48</span></div><div class="t" style="left:411.6px;top:155.37px;font-size:13.5px;color:#4e4e4e;letter-spacing:0.053px;">L<span style="color:#1f5c38">1237.00</span></div><div class="t" style="left:476.7px;top:155.37px;font-size:13.5px;color:#4e4e4e;letter-spacing:0.291px;">C<span style="color:#1f5c38">1290.36</span></div><div class="t" style="left:546.5px;top:155.37px;font-size:13.5px;color:#1f5c38;letter-spacing:0.344px;">+44.71 (+3.59%)</div><div class="t" style="left:20.8px;top:174.87px;font-size:13.5px;color:#4e4e4e;letter-spacing:0.109px;">Vol</div><div class="t" style="left:48.3px;top:174.87px;font-size:13.5px;color:#26a69a;letter-spacing:0.184px;">178.255K</div><div class="t" style="left:1461.2px;top:45.82px;font-size:13.8px;color:#4e4e4e;letter-spacing:-0.033px;">75.00</div><div class="t" style="left:1461.2px;top:82.62px;font-size:13.8px;color:#4e4e4e;letter-spacing:-0.033px;">50.00</div><div class="t" style="left:1461.2px;top:120.52px;font-size:13.8px;color:#4e4e4e;letter-spacing:-0.033px;">25.00</div><div class="t" style="left:1461.1px;top:151.62px;font-size:13.8px;color:#4e4e4e;letter-spacing:-1.520px;">USD</div><div class="t" style="left:1461.1px;top:184.02px;font-size:13.8px;color:#4e4e4e;letter-spacing:0.071px;">5500.00</div><div class="t" style="left:1461.1px;top:219.62px;font-size:13.8px;color:#4e4e4e;letter-spacing:0.071px;">3900.00</div><div class="t" style="left:1461.1px;top:259.82px;font-size:13.8px;color:#4e4e4e;letter-spacing:0.071px;">2650.00</div><div class="t" style="left:1461.1px;top:296.82px;font-size:13.8px;color:#4e4e4e;letter-spacing:0.071px;">1850.00</div><div class="t" style="left:1461.1px;top:377.32px;font-size:13.8px;color:#4e4e4e;letter-spacing:0.099px;">850.00</div><div class="t" style="left:1461.1px;top:413.52px;font-size:13.8px;color:#4e4e4e;letter-spacing:0.099px;">600.00</div><div class="t" style="left:1461.1px;top:445.52px;font-size:13.8px;color:#4e4e4e;letter-spacing:0.099px;">440.00</div><div class="t" style="left:1461.1px;top:479.82px;font-size:13.8px;color:#4e4e4e;letter-spacing:0.099px;">315.00</div><div class="t" style="left:1461.1px;top:520.12px;font-size:13.8px;color:#4e4e4e;letter-spacing:0.099px;">215.00</div><div class="t" style="left:1461.1px;top:553.72px;font-size:13.8px;color:#4e4e4e;letter-spacing:0.099px;">155.00</div><div class="t" style="left:1461.1px;top:594.02px;font-size:13.8px;color:#4e4e4e;letter-spacing:0.099px;">105.00</div><div class="t" style="left:1461.1px;top:625.52px;font-size:13.8px;color:#4e4e4e;letter-spacing:-0.033px;">77.00</div><div class="t" style="left:1461.1px;top:661.12px;font-size:13.8px;color:#4e4e4e;letter-spacing:-0.033px;">55.00</div><div class="t" style="left:1391.6px;top:334.07px;font-size:13.5px;color:#fff;letter-spacing:-1.063px;">ETHUSD</div><div class="t" style="left:1462.6px;top:334.07px;font-size:13.5px;color:#fff;letter-spacing:0.098px;">1290.36</div><div class="t" style="left:1462.2px;top:348.87px;font-size:13.5px;color:#e8f2ec;letter-spacing:-0.019px;">2d 15h</div><div class="t" style="left:1462.2px;top:394.87px;font-size:13.5px;color:#fff;letter-spacing:0.161px;">714.38</div><div class="t" style="left:89.6px;top:698.82px;font-size:13.8px;color:#4e4e4e;transform:translateX(-50%);">Oct</div><div class="t" style="left:186.8px;top:698.82px;font-size:13.8px;color:#4e4e4e;font-weight:bold;letter-spacing:0.666px;transform:translateX(-50%);">2020</div><div class="t" style="left:283.4px;top:698.82px;font-size:13.8px;color:#4e4e4e;transform:translateX(-50%);">Apr</div><div class="t" style="left:377.2px;top:698.82px;font-size:13.8px;color:#4e4e4e;transform:translateX(-50%);">Jul</div><div class="t" style="left:473.9px;top:698.82px;font-size:13.8px;color:#4e4e4e;transform:translateX(-50%);">Oct</div><div class="t" style="left:567.6px;top:698.82px;font-size:13.8px;color:#4e4e4e;font-weight:bold;letter-spacing:0.666px;transform:translateX(-50%);">2021</div><div class="t" style="left:661.4px;top:698.82px;font-size:13.8px;color:#4e4e4e;transform:translateX(-50%);">Apr</div><div class="t" style="left:758.4px;top:698.82px;font-size:13.8px;color:#4e4e4e;transform:translateX(-50%);">Jul</div><div class="t" style="left:852.1px;top:698.82px;font-size:13.8px;color:#4e4e4e;transform:translateX(-50%);">Oct</div><div class="t" style="left:949.1px;top:698.82px;font-size:13.8px;color:#4e4e4e;font-weight:bold;letter-spacing:0.666px;transform:translateX(-50%);">2022</div><div class="t" style="left:1042.8px;top:698.82px;font-size:13.8px;color:#4e4e4e;transform:translateX(-50%);">Apr</div><div class="t" style="left:1140.2px;top:698.82px;font-size:13.8px;color:#4e4e4e;transform:translateX(-50%);">Jul</div><div class="t" style="left:1233.6px;top:698.82px;font-size:13.8px;color:#4e4e4e;transform:translateX(-50%);">Oct</div><div class="t" style="left:1331.0px;top:698.82px;font-size:13.8px;color:#4e4e4e;font-weight:bold;letter-spacing:0.666px;transform:translateX(-50%);">2023</div><div class="t" style="left:1424.3px;top:698.82px;font-size:13.8px;color:#4e4e4e;transform:translateX(-50%);">Apr</div><div class="t" style="left:38.1px;top:733.63px;font-size:15.8px;color:#d6d6da;letter-spacing:-0.334px;">TradingView</div><svg width="30" height="16" style="position:absolute;left:10px;top:732px" viewBox="0 0 30 16"><path d="M1 1.7h9.6v11.4h-5.4v-6.2h-4.2z" fill="#d6d6da"/><circle cx="14.3" cy="4.5" r="1.8" fill="#d6d6da"/><path d="M17.5 1.7h6.2l-4.6 11.4h-6.2z" fill="#d6d6da"/></svg></body></html>
